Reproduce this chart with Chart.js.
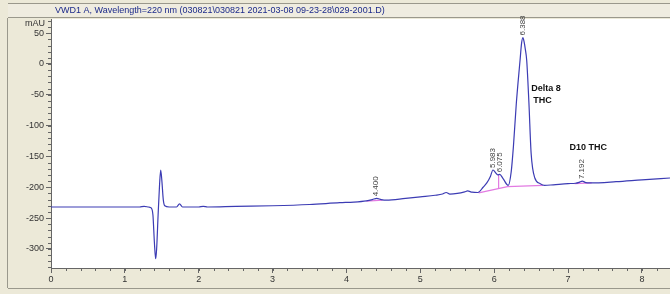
<!DOCTYPE html>
<html>
<head>
<meta charset="utf-8">
<script src="https://cdn.jsdelivr.net/npm/chart.js@4.4.1/dist/chart.umd.min.js"></script>
<style>
html, body { margin: 0; padding: 0; background: #ECE9D8; }
#wrap { position: relative; width: 670px; height: 294px; }
</style>
</head>
<body>
<div id="wrap"><canvas id="myChart"></canvas></div>
<script>
// detector trace, time in min / signal in mAU
const traceTime = [0, 0.5, 1.0, 1.2, 1.26, 1.32, 1.36, 1.38, 1.40, 1.417, 1.43, 1.45, 1.47, 1.485, 1.50, 1.52, 1.54, 1.6, 1.7, 1.74, 1.78,
  2.0, 2.06, 2.12, 2.5, 3.0, 3.5, 3.91, 4.1, 4.27, 4.35, 4.41, 4.47, 4.54, 4.8, 5.0, 5.2, 5.3, 5.35, 5.40, 5.5, 5.6, 5.64, 5.70, 5.78,
  5.85, 5.90, 5.95, 5.983, 6.03, 6.05, 6.075, 6.12, 6.19, 6.23, 6.26, 6.30, 6.35, 6.37, 6.388, 6.405, 6.42, 6.44, 6.47, 6.50, 6.55, 6.62, 6.68,
  6.8, 7.0, 7.1, 7.15, 7.192, 7.24, 7.3, 7.65, 8.0, 8.38]
const traceMAU = [-232, -232, -232, -232, -231, -232, -234, -245, -290, -316, -300, -245, -195, -172, -188, -220, -230, -232, -232, -227, -232,
  -232, -231, -232, -231, -230, -228, -225, -224, -222, -220, -218, -220, -221, -218, -215.5, -213, -211, -208.5, -211, -210, -207.5, -206, -208, -208.5,
  -200, -193, -182, -172, -178, -180, -179, -186, -197, -175, -134, -63, 6, 33, 43, 36, 25, 6, -63, -145, -185, -194, -197,
  -196, -194, -193.5, -192, -190, -192.5, -193, -191, -188, -185]

// integrated peaks
const peakTimes = [4.400, 5.983, 6.075, 6.388, 7.192]
const peakApex = [-218, -172, -179, 43, -190]
const peakLabels = ['4.400', '5.983', '6.075', '6.388', '7.192']

// drawn integration baselines
const base1Time = [4.27, 4.49]
const base1MAU = [-222.5, -221]
const base2Time = [5.79, 6.18, 6.66]
const base2MAU = [-209, -199, -197]
const dropTime = [6.06, 6.06]
const dropMAU = [-180, -201]
const base3Time = [7.09, 7.32]
const base3MAU = [-194, -193]

const titleText = 'VWD1 A, Wavelength=220 nm (030821\\030821 2021-03-08 09-23-28\\029-2001.D)'

function pts(xs, ys) {
  return xs.map((x, i) => ({ x: x, y: ys[i] }))
}

const baseStyle = {
  showLine: true,
  borderColor: '#e27ae2',
  borderWidth: 1.2,
  pointRadius: 0,
  order: 2
}

// frame, title bar, white plot area
const frame = {
  id: 'frame',
  beforeDraw(chart) {
    const c = chart.ctx
    const a = chart.chartArea
    c.save()
    c.fillStyle = '#ECE9D8'
    c.fillRect(0, 0, chart.width, chart.height)
    // title bar
    c.fillStyle = '#EFECE0'
    c.fillRect(8, 3, chart.width - 8, 15)
    c.strokeStyle = '#9a988c'
    c.lineWidth = 1
    c.beginPath()
    c.moveTo(8, 3.5); c.lineTo(chart.width, 3.5)
    c.moveTo(8, 17.5); c.lineTo(chart.width, 17.5)
    c.moveTo(7.5, 18); c.lineTo(7.5, 288)
    c.moveTo(8, 288.5); c.lineTo(chart.width, 288.5)
    c.stroke()
    c.fillStyle = '#1c2a8a'
    c.font = '9px "Liberation Sans", Arial, sans-serif'
    c.textBaseline = 'middle'
    c.fillText(titleText, 55, 11)
    // plot background
    c.fillStyle = '#ffffff'
    c.fillRect(a.left, a.top, a.right - a.left, a.bottom - a.top)
    c.restore()
  },
  afterDraw(chart) {
    const c = chart.ctx
    const a = chart.chartArea
    const xs = chart.scales.x
    const ys = chart.scales.y
    c.save()
    c.strokeStyle = '#666'
    c.lineWidth = 1
    c.beginPath()
    for (let t = 0; t <= xs.max + 1e-9; t += 0.2) {
      const px = Math.round(xs.getPixelForValue(t)) + 0.5
      c.moveTo(px, a.bottom); c.lineTo(px, a.bottom + 3)
    }
    for (let v = -330; v <= ys.max; v += 10) {
      const py = Math.round(ys.getPixelForValue(v)) + 0.5
      c.moveTo(a.left - 3, py); c.lineTo(a.left, py)
    }
    c.stroke()
    c.fillStyle = '#333'
    c.font = '9px "Liberation Sans", Arial, sans-serif'
    c.textAlign = 'right'
    c.textBaseline = 'middle'
    c.fillText('mAU', 45, 24)

    // retention time labels
    c.font = '8px "Liberation Sans", Arial, sans-serif'
    c.fillStyle = '#444'
    c.textAlign = 'left'
    peakTimes.forEach((t, i) => {
      const px = xs.getPixelForValue(t)
      const py = ys.getPixelForValue(peakApex[i]) - 2
      c.save()
      c.translate(px, py)
      c.rotate(-Math.PI / 2)
      c.fillText(peakLabels[i], 0, 0)
      c.restore()
    })

    // compound names
    c.fillStyle = '#111'
    c.font = 'bold 9px "Liberation Sans", Arial, sans-serif'
    chart.options.plugins.frame.notes.forEach(n => {
      c.fillText(n.text, xs.getPixelForValue(n.t), ys.getPixelForValue(n.v))
    })
    c.restore()
  }
}

new Chart(document.getElementById('myChart'), {
  type: 'scatter',
  data: {
    datasets: [
      {
        label: 'VWD1 A',
        data: pts(traceTime, traceMAU),
        showLine: true,
        borderColor: '#3c3cb4',
        borderWidth: 1.2,
        pointRadius: 0,
        cubicInterpolationMode: 'monotone',
        order: 1
      },
      Object.assign({ data: pts(base1Time, base1MAU) }, baseStyle),
      Object.assign({ data: pts(base2Time, base2MAU) }, baseStyle),
      Object.assign({ data: pts(dropTime, dropMAU) }, baseStyle),
      Object.assign({ data: pts(base3Time, base3MAU) }, baseStyle)
    ]
  },
  options: {
    responsive: true,
    maintainAspectRatio: false,
    animation: false,
    layout: { padding: { top: 19, left: 0, right: 0, bottom: 0 } },
    plugins: {
      legend: { display: false },
      tooltip: { enabled: false },
      frame: {
        notes: [
          { text: 'Delta 8', t: 6.50, v: -39 },
          { text: 'THC', t: 6.53, v: -59 },
          { text: 'D10 THC', t: 7.02, v: -136 }
        ]
      }
    },
    scales: {
      x: {
        type: 'linear',
        min: 0,
        max: 8.38,
        afterFit(s) { s.height = 26 },
        border: { color: '#666', width: 1 },
        grid: { drawOnChartArea: false, tickLength: 5, color: '#666' },
        ticks: {
          stepSize: 1,
          includeBounds: false,
          autoSkip: false,
          maxRotation: 0,
          padding: 1,
          color: '#333',
          font: { family: '"Liberation Sans", Arial, sans-serif', size: 9 }
        }
      },
      y: {
        min: -331,
        max: 73,
        afterFit(s) { s.width = 51 },
        border: { color: '#666', width: 1 },
        grid: { drawOnChartArea: false, tickLength: 5, color: '#666' },
        ticks: {
          stepSize: 50,
          includeBounds: false,
          padding: 2,
          color: '#333',
          font: { family: '"Liberation Sans", Arial, sans-serif', size: 9 }
        }
      }
    }
  },
  plugins: [frame]
})
</script>
</body>
</html>
